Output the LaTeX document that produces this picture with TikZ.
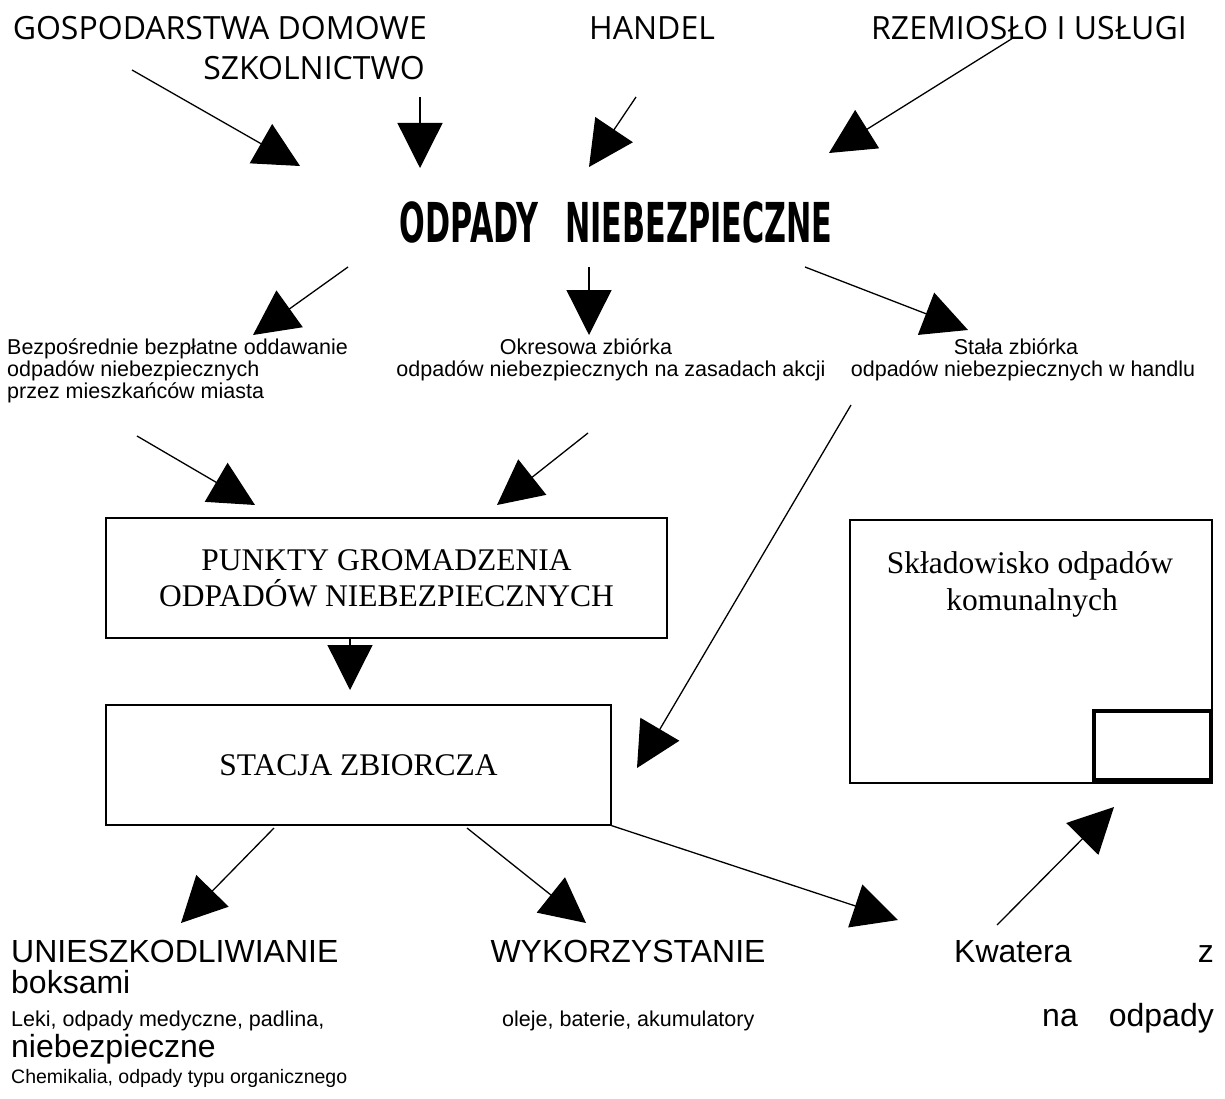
\documentclass[tikz,border=0pt]{standalone}
\usepackage{fontspec}
\usepackage{graphicx}
\setmainfont{Liberation Serif}
\newfontfamily\arialf{Liberation Sans}
\newfontfamily\topf{Open Sans}
\newfontfamily\heavyf{DejaVu Sans}
\usetikzlibrary{arrows.meta}
\begin{document}
\begin{tikzpicture}[x=1pt,y=-1pt,
  conn/.style={line width=1.3pt,-{Triangle[length=45pt,width=45pt]}},
  lbl/.style={inner sep=0pt},
  toplbl/.style={lbl,font=\topf\fontsize{32}{38}\selectfont},
  small/.style={lbl,font=\arialf\fontsize{21.5}{22}\selectfont},
  big/.style={lbl,font=\arialf\fontsize{32}{36}\selectfont},
  boxtxt/.style={font=\fontsize{31.5}{36}\selectfont},
  boxn/.style={draw,line width=1.3pt,inner sep=0pt,boxtxt,align=center}]
\useasboundingbox[fill=white] (0,0) rectangle (1225,1099);

% top sources
\node[toplbl,anchor=base east] (gosp) at (427,40) {GOSPODARSTWA DOMOWE};
\node[toplbl,anchor=base east] (szk) at (425,80) {SZKOLNICTWO};
\node[toplbl,anchor=base west] (handel) at (589,40) {HANDEL};
\node[toplbl,anchor=base west] (rzem) at (871,40) {RZEMIOSŁO I USŁUGI};

% title
\node[lbl,anchor=base,font=\heavyf\bfseries\fontsize{55}{60}\selectfont] (odp) at (616,243)
  {\scalebox{0.55}[1]{ODPADY\hspace{49pt}NIEBEZPIECZNE}};

% collection methods
\node[small,anchor=base west] (bez1) at (7,354) {Bezpośrednie bezpłatne oddawanie};
\node[small,anchor=base west] (bez2) at (7,376) {odpadów niebezpiecznych};
\node[small,anchor=base west] (bez3) at (7,398) {przez mieszkańców miasta};
\node[small,anchor=base] (okr1) at (586,354) {Okresowa zbiórka};
\node[small,anchor=base] (okr2) at (611,376) {odpadów niebezpiecznych na zasadach akcji};
\node[small,anchor=base] (sta1) at (1016,354) {Stała zbiórka};
\node[small,anchor=base] (sta2) at (1023,376) {odpadów niebezpiecznych w handlu};

% boxes
\node[boxn,minimum width=561pt,minimum height=120pt] (punkty) at (386.5,578)
  {PUNKTY GROMADZENIA\\ODPADÓW NIEBEZPIECZNYCH};
\node[boxn,minimum width=505pt,minimum height=120pt] (stacja) at (358.5,765) {STACJA ZBIORCZA};
\node[draw,line width=1.3pt,minimum width=362pt,minimum height=263pt,inner sep=0pt] (sklad) at (1031,651.5) {};
\node[lbl,anchor=base,boxtxt] (sk1) at (1030,573) {Składowisko odpadów};
\node[lbl,anchor=base,boxtxt] (sk2) at (1032,610) {komunalnych};
\node[draw,line width=3.5pt,minimum width=117pt,minimum height=69pt,inner sep=0pt] (kw) at (1152.5,745.5) {};

% bottom labels
\node[big,anchor=base west] (unie) at (11,962) {UNIESZKODLIWIANIE};
\node[big,anchor=base west] (boks) at (11,993) {boksami};
\node[small,anchor=base west] (leki) at (11,1026) {Leki, odpady medyczne, padlina,};
\node[big,anchor=base west] (nieb) at (11,1057) {niebezpieczne};
\node[lbl,anchor=base west,font=\arialf\fontsize{19.5}{22}\selectfont] (chem) at (11,1083) {Chemikalia, odpady typu organicznego};
\node[big,anchor=base] (wyk) at (628,962) {WYKORZYSTANIE};
\node[small,anchor=base west] (olej) at (502,1026) {oleje, baterie, akumulatory};
\node[big,anchor=base west] (kwat) at (954,962) {Kwatera};
\node[big,anchor=base east] (zz) at (1214,962) {z};
\node[big,anchor=base west] (na) at (1042,1026) {na};
\node[big,anchor=base east] (odpady) at (1214,1026) {odpady};

% connector end points
\coordinate (a1s) at (132,70);  \coordinate (a1e) at (300,166);
\coordinate (a2s) at (420,97);  \coordinate (a2e) at (420,168);
\coordinate (a3s) at (636,97);  \coordinate (a3e) at (589,167);
\coordinate (a4s) at (1013,38); \coordinate (a4e) at (829,153);
\coordinate (b1s) at (348,267); \coordinate (b1e) at (253,335);
\coordinate (b2s) at (589,267); \coordinate (b2e) at (589,335);
\coordinate (b3s) at (805,267); \coordinate (b3e) at (968,330);
\coordinate (c1s) at (137,436); \coordinate (c1e) at (255,505);
\coordinate (c2s) at (588,433); \coordinate (c2e) at (497,505);
\coordinate (ds) at (851,405);  \coordinate (de) at (637,768);
\coordinate (pe) at (350,690);
\coordinate (e1s) at (274,828); \coordinate (e1e) at (181,923);
\coordinate (e2s) at (467,828); \coordinate (e2e) at (586,923);
\coordinate (e3e) at (898,920);
\coordinate (e4s) at (997,925); \coordinate (e4e) at (1114,807);

% connectors
\draw[conn] (a1s) -- (a1e);
\draw[conn] (a2s) -- (a2e);
\draw[conn] (a3s) -- (a3e);
\draw[conn] (a4s) -- (a4e);
\draw[conn] (b1s) -- (b1e);
\draw[conn] (b2s) -- (b2e);
\draw[conn] (b3s) -- (b3e);
\draw[conn] (c1s) -- (c1e);
\draw[conn] (c2s) -- (c2e);
\draw[conn] (ds) -- (de);
\draw[conn] (punkty.south -| pe) -- (pe);
\draw[conn] (e1s) -- (e1e);
\draw[conn] (e2s) -- (e2e);
\draw[conn] (stacja.south east) -- (e3e);
\draw[conn] (e4s) -- (e4e);
\end{tikzpicture}
\end{document}
